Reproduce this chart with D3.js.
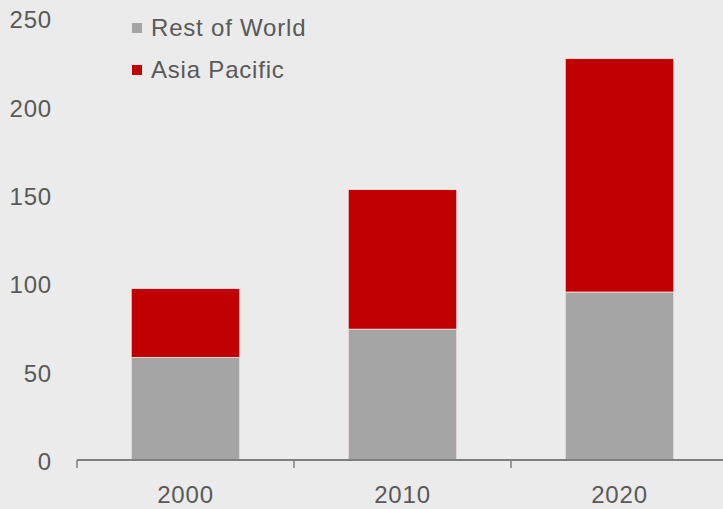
<!DOCTYPE html>
<html>
<head>
<meta charset="utf-8">
<script src="https://cdn.jsdelivr.net/npm/d3@7"></script>
<style>
  html, body { margin: 0; padding: 0; background: #ebebeb; }
  svg { display: block; }
  text { font-family: "Liberation Sans", Arial, sans-serif; letter-spacing: 0.8px; }
</style>
</head>
<body>
<svg id="chart" width="723" height="509"></svg>
<script>
// Data
const years = ["2000", "2010", "2020"];
const restOfWorld = [58, 74, 95];
const asiaPacific = [39, 79, 132];
const yTicks = [0, 50, 100, 150, 200, 250];
const seriesNames = ["Rest of World", "Asia Pacific"];
const seriesColors = ["#a5a5a5", "#c00000"];

const svg = d3.select("#chart");
const W = 723, H = 509;

svg.append("rect").attr("width", W).attr("height", H).attr("fill", "#ebebeb");

const x = d3.scaleBand()
  .domain(years)
  .range([77, 728])
  .paddingInner(0.5)
  .paddingOuter(0.25);

const y = d3.scaleLinear().domain([0, 250]).range([460, 18]);

// stacked layout
const rows = years.map((yr, i) => ({ year: yr, rest: restOfWorld[i], asia: asiaPacific[i] }));
const stack = d3.stack().keys(["rest", "asia"]);
const layers = stack(rows);

svg.append("g")
  .selectAll("g")
  .data(layers)
  .join("g")
  .attr("fill", (d, i) => seriesColors[i])
  .selectAll("rect")
  .data(d => d)
  .join("rect")
  .attr("x", d => x(d.data.year))
  .attr("width", x.bandwidth())
  .attr("y", d => y(d[1]))
  .attr("height", d => y(d[0]) - y(d[1]))
  .attr("stroke", "#f4e6e6")
  .attr("stroke-width", 0.8);

// y tick labels (no axis line)
const yAxis = d3.axisLeft(y).tickValues(yTicks).tickSize(0).tickPadding(0);
const gy = svg.append("g").attr("transform", "translate(52,0)").call(yAxis);
gy.select(".domain").remove();
gy.selectAll("text")
  .attr("fill", "#595959")
  .style("font-size", "24px")
  .attr("dy", "0.4em");

// x axis baseline with tick marks between categories
const [r0, r1] = x.range();
const step = x.step();
const boundaries = d3.range(years.length + 1).map(i => r0 + i * step);
const gx = svg.append("g");
gx.append("line")
  .attr("x1", r0).attr("x2", r1)
  .attr("y1", y(0)).attr("y2", y(0))
  .attr("stroke", "#7f7f7f").attr("stroke-width", 2);
gx.selectAll("line.tick")
  .data(boundaries)
  .join("line")
  .attr("class", "tick")
  .attr("x1", d => d).attr("x2", d => d)
  .attr("y1", y(0)).attr("y2", y(0) + 8)
  .attr("stroke", "#7f7f7f").attr("stroke-width", 1.5);
gx.selectAll("text")
  .data(years)
  .join("text")
  .attr("x", d => x(d) + x.bandwidth() / 2)
  .attr("y", 503)
  .attr("text-anchor", "middle")
  .attr("fill", "#595959")
  .style("font-size", "24px")
  .text(d => d);

// legend
const legend = svg.append("g");
const legendY = [28, 70];
seriesNames.forEach((name, i) => {
  legend.append("rect")
    .attr("x", 132).attr("y", legendY[i] - 5)
    .attr("width", 10).attr("height", 10)
    .attr("fill", seriesColors[i]);
  legend.append("text")
    .attr("x", 151).attr("y", legendY[i] + 8)
    .attr("fill", "#595959")
    .style("font-size", "24px")
    .text(name);
});
</script>
</body>
</html>
